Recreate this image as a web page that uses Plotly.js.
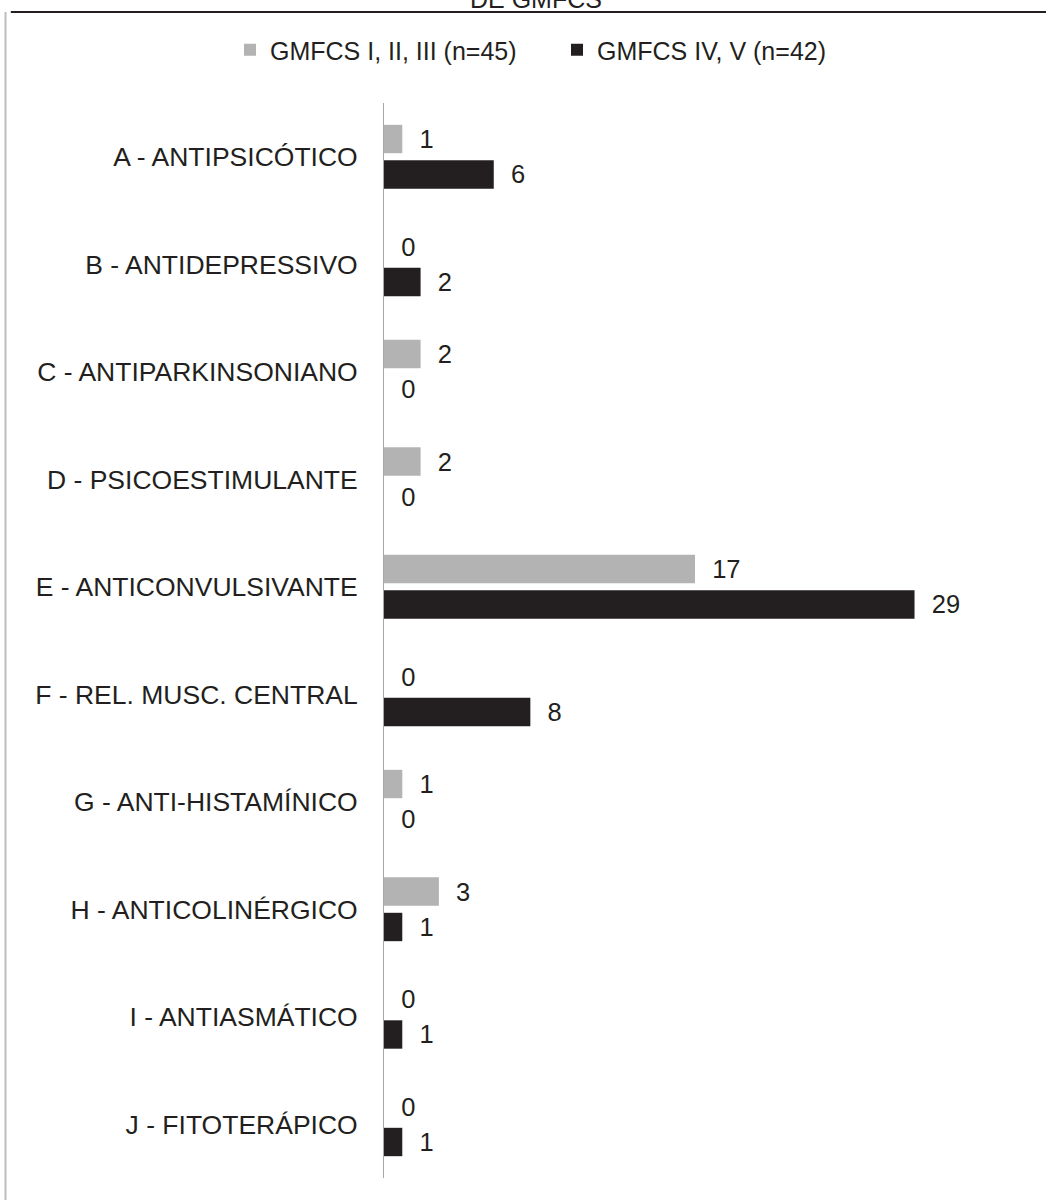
<!DOCTYPE html>
<html>
<head>
<meta charset="utf-8">
<script src="https://cdn.plot.ly/plotly-3.0.1.min.js"></script>
<style>
  html, body { margin: 0; padding: 0; background: #ffffff; }
  #chart { width: 1046px; height: 1200px; }
</style>
</head>
<body>
<div id="chart"></div>
<script>
// Drug classes used, grouped by GMFCS level
const categories = [
  'A - ANTIPSICÓTICO',
  'B - ANTIDEPRESSIVO',
  'C - ANTIPARKINSONIANO',
  'D - PSICOESTIMULANTE',
  'E - ANTICONVULSIVANTE',
  'F - REL. MUSC. CENTRAL',
  'G - ANTI-HISTAMÍNICO',
  'H - ANTICOLINÉRGICO',
  'I - ANTIASMÁTICO',
  'J - FITOTERÁPICO'
];
const seriesNames = ['GMFCS I, II, III (n=45)', 'GMFCS IV, V (n=42)'];
const gmfcsLow  = [1, 0, 2, 2, 17, 0, 1, 3, 0, 0];
const gmfcsHigh = [6, 2, 0, 0, 29, 8, 0, 1, 1, 1];
const titleText = 'DE GMFCS';

const FONT = 'Liberation Sans, Arial, Helvetica, sans-serif';
const INK = '#231f20';

function barTrace(name, values, color) {
  return {
    type: 'bar',
    orientation: 'h',
    name: name,
    y: categories,
    x: values,
    marker: { color: color },
    texttemplate: '\u00a0\u00a0%{x}',
    textposition: 'outside',
    textangle: 0,
    constraintext: 'none',
    cliponaxis: false,
    outsidetextfont: { family: FONT, size: 25.5, color: INK },
    hoverinfo: 'x+name'
  };
}

const data = [
  barTrace(seriesNames[0], gmfcsLow, '#b3b3b3'),
  barTrace(seriesNames[1], gmfcsHigh, INK)
];

const layout = {
  width: 1046,
  height: 1200,
  paper_bgcolor: '#ffffff',
  plot_bgcolor: '#ffffff',
  margin: { l: 384, r: 40, t: 103, b: 22, pad: 0, autoexpand: false },
  font: { family: FONT, color: INK, size: 25 },
  barmode: 'group',
  bargap: 0.34,
  bargroupgap: 0.2,
  showlegend: true,
  legend: {
    orientation: 'h',
    x: -0.2476, xanchor: 'left',
    y: 1.0493, yanchor: 'middle',
    font: { family: FONT, size: 25, color: INK },
    traceorder: 'normal',
    entrywidth: 282,
    entrywidthmode: 'pixels',
    bgcolor: 'rgba(0,0,0,0)'
  },
  xaxis: {
    range: [0, 34],
    showgrid: false,
    zeroline: false,
    showline: false,
    showticklabels: false,
    ticks: '',
    fixedrange: true
  },
  yaxis: {
    type: 'category',
    autorange: 'reversed',
    showgrid: false,
    zeroline: false,
    showline: true,
    linecolor: '#a6a6a6',
    linewidth: 1,
    ticks: '',
    ticklabelstandoff: 20,
    tickfont: { family: FONT, size: 26.5, color: INK },
    fixedrange: true
  },
  annotations: [
    // chart title, running off the top edge
    { text: titleText, xref: 'paper', yref: 'paper',
      x: 0.2444, y: 1.0819, xanchor: 'center', yanchor: 'bottom',
      showarrow: false, font: { family: FONT, size: 25, color: INK } }
  ],
  shapes: [
    // rule across the top of the figure
    { type: 'line', xref: 'paper', yref: 'paper',
      x0: -0.6, x1: 1.07, y0: 1.0847, y1: 1.0847,
      line: { color: '#231f20', width: 2 } },
    // left frame edge
    { type: 'line', xref: 'paper', yref: 'paper',
      x0: -0.6085, x1: -0.6085, y0: 1.0847, y1: -0.03,
      line: { color: '#bdbdbd', width: 2 } }
  ]
};

Plotly.newPlot('chart', data, layout, { staticPlot: true, displayModeBar: false });
</script>
</body>
</html>
